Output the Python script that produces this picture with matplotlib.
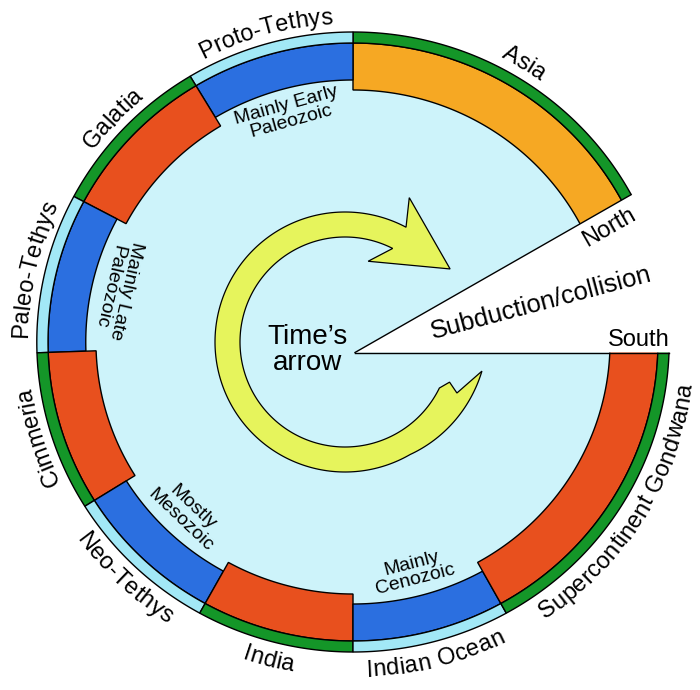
import numpy as np
import matplotlib
matplotlib.use("Agg")
import matplotlib.pyplot as plt
from matplotlib.patches import Polygon
from matplotlib.font_manager import FontProperties, findfont, get_font

# ---------------- data ----------------
segment_names = ["Asia", "Proto-Tethys", "Galatia", "Paleo-Tethys", "Cimmeria",
                 "Neo-Tethys", "India", "Indian Ocean", "Supercontinent Gondwana"]
segment_start = [26, 90, 121, 152, 182, 212, 241, 270, 299]      # degrees
segment_end = [90, 121, 152, 182, 212, 241, 270, 299, 361]
segment_kind = ["asia", "ocean", "land", "ocean", "land", "ocean", "land", "ocean", "land"]
label_tops_out = [True, True, True, True, True, False, False, False, False]
label_mid = [59, 105.5, 136.5, 167, 197, 226.5, 255.5, 284.5, 328.5]
ocean_ages = ["Mainly Early\nPaleozoic", "Mainly Late\nPaleozoic", "Mostly\nMesozoic", "Mainly\nCenozoic"]
ocean_age_tops_out = [True, False, False, False]

FONT = "Liberation Sans"
colors = {"asia": "#F6A823", "land": "#E8501E", "ocean": "#2B6FE0"}
band_colors = {"asia": "#149628", "land": "#149628", "ocean": "#A2E8F6"}
DISK_COLOR = "#CDF3FA"
ARROW_COLOR = "#E6F45C"

# geometry (pixel space)
CX, CY, XS = 353, 342, 1.02
R_DISK, R_OUT = 299, 310
R_IN = {"asia": 252, "land": 252, "ocean": 262}
APEX = (355, 352.5)
NORTH_ANGLE = 29.75

fig = plt.figure(figsize=(7, 6.9), dpi=100)
ax = fig.add_axes([0, 0, 1, 1])
ax.set_xlim(0, 700)
ax.set_ylim(690, 0)
ax.axis("off")


def pt(r, th):
    t = np.deg2rad(th)
    return CX + XS * r * np.cos(t), CY - r * np.sin(t)


def sector(r1, r2, a1, a2, n=120):
    th = np.linspace(a1, a2, n)
    xo, yo = pt(r2, th)
    xi, yi = pt(r1, th[::-1])
    return np.column_stack([np.r_[xo, xi], np.r_[yo, yi]])


# disk
th = np.linspace(0, 360, 400)
dx, dy = pt(R_DISK, th)
ax.add_patch(Polygon(np.column_stack([dx, dy]), closed=True, fc=DISK_COLOR, ec="none", zorder=1))

# ring segments
for a1, a2, kind in zip(segment_start, segment_end, segment_kind):
    ax.add_patch(Polygon(sector(R_IN[kind], R_DISK, a1, a2), closed=True,
                         fc=colors[kind], ec="black", lw=1.0, zorder=2))
    ax.add_patch(Polygon(sector(R_DISK, R_OUT, a1, a2), closed=True,
                         fc=band_colors[kind], ec="black", lw=1.0, zorder=2))

# subduction wedge
na = np.deg2rad(NORTH_ANGLE)
far = 450
north_far = (APEX[0] + far * np.cos(na), APEX[1] - far * np.sin(na))
south_far = (APEX[0] + far, APEX[1])
ax.add_patch(Polygon([APEX, north_far, south_far], closed=True, fc="white", ec="none", zorder=3))


def ray_to_ring(ang):
    a = np.deg2rad(ang)
    ts = np.linspace(0, 400, 4001)
    xs = APEX[0] + ts * np.cos(a)
    ys = APEX[1] - ts * np.sin(a)
    inside = ((xs - CX) / (XS * R_OUT)) ** 2 + ((ys - CY) / R_OUT) ** 2 <= 1
    t = ts[inside].max()
    return APEX[0] + t * np.cos(a), APEX[1] - t * np.sin(a)


for ang in (NORTH_ANGLE, 0):
    ex, ey = ray_to_ring(ang)
    ax.plot([APEX[0], ex], [APEX[1], ey], color="black", lw=1.0, zorder=4)

# time's arrow
AC = (345, 342)
A_OUT, A_IN = 130, 105
arrow_pts = []


def apt(r, th):
    t = np.deg2rad(th)
    return AC[0] + r * np.cos(t), AC[1] - r * np.sin(t)


for t in np.linspace(62, 348, 240):
    r = A_OUT + (0 if t < 300 else (t - 300) / 48 * 10)
    arrow_pts.append(apt(r, t))
for r, t in [(123, -24.5), (112, -21)]:
    arrow_pts.append(apt(r, t))
for t in np.linspace(334, 63, 200):
    arrow_pts.append(apt(A_IN, t))
for r, t in [(84, 74), (128, 34.8), (158, 66)]:
    arrow_pts.append(apt(r, t))
ax.add_patch(Polygon(arrow_pts, closed=True, fc=ARROW_COLOR, ec="black", lw=0.9, zorder=5))

# ---------------- text ----------------
fp = FontProperties(family=FONT)
font = get_font(findfont(fp))


def curved_text(s, th_c, r_base, size, tops_out):
    font.set_size(size, 100)
    adv = [font.load_char(ord(c)).linearHoriAdvance / 65536.0 for c in s]
    L = sum(adv)
    r_arc = r_base + 6 if tops_out else r_base - 6
    pos = 0.0
    for c, a in zip(s, adv):
        off = pos + a / 2 - L / 2
        pos += a
        if c == " ":
            continue
        dth = np.rad2deg(off / r_arc)
        if tops_out:
            thi = th_c - dth
            rot = thi - 90
        else:
            thi = th_c + dth
            rot = thi + 90
        x, y = pt(r_base, thi)
        ax.text(x, y, c, family=FONT, fontsize=size, rotation=rot, rotation_mode="anchor",
                ha="center", va="baseline", zorder=6)


for name, mid, tops in zip(segment_names, label_mid, label_tops_out):
    curved_text(name, mid, 319 if tops else 335, 17, tops)

ocean_mids = [m for m, k in zip(label_mid, segment_kind) if k == "ocean"]
for txt, mid, tops in zip(ocean_ages, ocean_mids, ocean_age_tops_out):
    x, y = pt(237, mid)
    rot = mid - 90 if tops else mid + 90
    ax.text(x, y, txt, family=FONT, fontsize=14, rotation=rot, rotation_mode="anchor",
            ha="center", va="center", multialignment="center", linespacing=1.0, zorder=6)

ax.text(308, 350, "Time\u2019s\narrow", family=FONT, fontsize=20, ha="center", va="center",
        multialignment="center", linespacing=1.0, zorder=6)

half = NORTH_ANGLE / 2
hb = np.deg2rad(half)
ax.text(APEX[0] + 192 * np.cos(hb), APEX[1] - 192 * np.sin(hb), "Subduction/collision",
        family=FONT, fontsize=18.5, rotation=half, rotation_mode="anchor",
        ha="center", va="center", zorder=6)

# North label under north line
d, off = 283, 18
px = APEX[0] + d * np.cos(na) + off * np.sin(na)
py = APEX[1] - d * np.sin(na) + off * np.cos(na)
ax.text(px, py, "North", family=FONT, fontsize=17, rotation=NORTH_ANGLE, rotation_mode="anchor",
        ha="center", va="center", zorder=6)
ax.text(APEX[0] + 284, APEX[1] - 6, "South", family=FONT, fontsize=17, ha="center",
        va="baseline", zorder=6)

fig.savefig("out.png", dpi=100, facecolor="white")
